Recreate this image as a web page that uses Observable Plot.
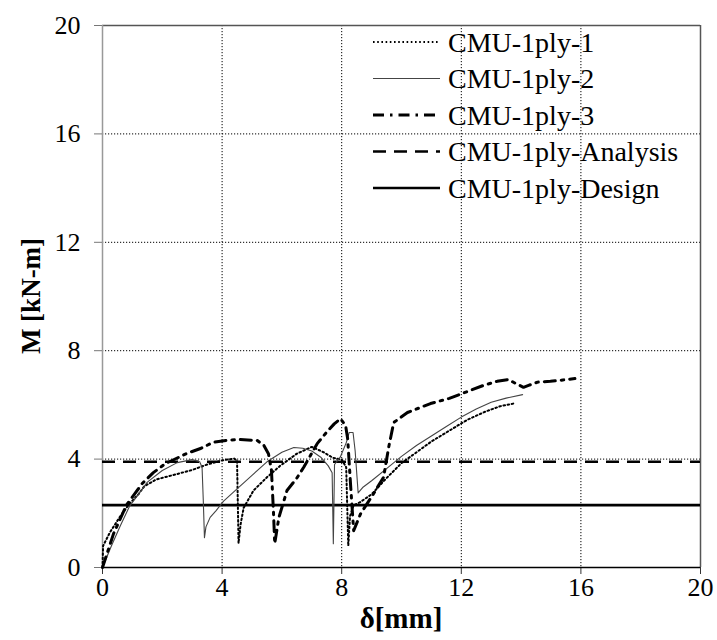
<!DOCTYPE html>
<html><head><meta charset="utf-8">
<script src="https://cdn.jsdelivr.net/npm/d3@7"></script>
<script src="https://cdn.jsdelivr.net/npm/@observablehq/plot@0.6"></script>
<style>
body{margin:0;background:#fff;}
#chart{position:relative;width:717px;height:640px;}
#chart svg text{font-family:"Liberation Serif","Times New Roman",Times,serif !important;}
</style>
</head><body><div id="chart"></div>
<script>
const xTicks = [0, 4, 8, 12, 16, 20];
const yTicks = [0, 4, 8, 12, 16, 20];
const gridX = [4, 8, 12, 16];
const gridY = [4, 8, 12, 16];
const seriesNames = ["CMU-1ply-1", "CMU-1ply-2", "CMU-1ply-3", "CMU-1ply-Analysis", "CMU-1ply-Design"];
const xLabel = "δ[mm]";
const yLabel = "M [kN-m]";

const s1x = [0, 0.02, 0.25, 0.6, 0.9, 1.2, 1.4, 1.8, 2.5, 3.0, 3.5, 4.0, 4.4, 4.5, 4.55, 4.62, 4.72, 5.05, 5.5, 5.95, 6.5, 7.0, 7.4, 7.7, 8.0, 8.15, 8.22, 8.28, 8.4, 8.6, 9.0, 9.5, 10.0, 10.5, 11.0, 11.6, 12.2, 12.8, 13.3, 13.75];
const s1y = [0, 0.8, 1.3, 1.9, 2.35, 2.7, 3.0, 3.25, 3.45, 3.6, 3.8, 3.95, 4.02, 3.95, 0.9, 1.6, 2.2, 2.84, 3.33, 3.76, 4.2, 4.45, 4.25, 4.05, 3.98, 3.7, 0.8, 1.9, 2.3, 2.4, 2.7, 3.3, 3.85, 4.25, 4.65, 5.05, 5.45, 5.75, 5.95, 6.05];

const s2x = [0, 0.3, 0.6, 0.9, 1.2, 1.5, 2.0, 2.5, 3.0, 3.25, 3.33, 3.37, 3.41, 3.46, 3.6, 3.8, 4.05, 4.5, 5.0, 5.5, 6.0, 6.4, 6.7, 7.0, 7.3, 7.55, 7.68, 7.72, 7.76, 7.95, 8.15, 8.25, 8.38, 8.45, 8.55, 8.7, 9.0, 9.5, 10.0, 10.5, 11.0, 11.5, 12.0, 12.5, 13.0, 13.5, 14.05];
const s2y = [0, 0.8, 1.55, 2.25, 2.7, 3.15, 3.58, 3.87, 3.98, 3.9, 3.7, 2.5, 1.1, 1.5, 1.85, 2.1, 2.45, 2.9, 3.4, 3.9, 4.25, 4.43, 4.4, 4.3, 4.07, 3.75, 3.5, 0.88, 3.8, 4.07, 4.6, 4.98, 4.98, 4.3, 2.75, 2.95, 3.2, 3.65, 4.1, 4.5, 4.85, 5.2, 5.55, 5.85, 6.1, 6.25, 6.38];

const s3x = [0, 0.37, 0.8, 1.33, 1.7, 2.1, 2.8, 3.3, 3.7, 4.2, 4.6, 5.17, 5.4, 5.55, 5.65, 5.72, 5.76, 5.9, 6.17, 6.5, 6.73, 7.18, 7.5, 7.75, 7.96, 8.13, 8.2, 8.3, 8.4, 8.63, 9.07, 9.4, 9.57, 9.74, 10.2, 10.97, 11.6, 12.03, 12.74, 13.2, 13.58, 13.8, 14.08, 14.25, 14.55, 14.98, 15.4, 15.8];
const s3y = [0, 1.25, 2.3, 3.1, 3.5, 3.83, 4.2, 4.4, 4.62, 4.7, 4.72, 4.69, 4.5, 4.2, 3.6, 2.0, 0.88, 1.85, 2.84, 3.3, 3.7, 4.57, 5.0, 5.3, 5.49, 5.24, 4.75, 3.0, 1.36, 1.98, 2.73, 3.33, 4.43, 5.35, 5.72, 6.05, 6.24, 6.42, 6.72, 6.87, 6.94, 6.8, 6.65, 6.72, 6.84, 6.87, 6.92, 6.97];

const analysisM = [3.9];
const designM = [2.3];

const toRows = (xs, ys, name) => xs.map((d, i) => ({d, m: ys[i], series: name}));
const d1 = toRows(s1x, s1y, seriesNames[0]);
const d2 = toRows(s2x, s2y, seriesNames[1]);
const d3r = toRows(s3x, s3y, seriesNames[2]);

const styles = [
  {stroke: "#000", strokeWidth: 2, strokeDasharray: "1.6,2.6"},
  {stroke: "#444", strokeWidth: 1.1, strokeDasharray: null},
  {stroke: "#000", strokeWidth: 3, strokeDasharray: "11,6,2.5,6"},
  {stroke: "#000", strokeWidth: 2.6, strokeDasharray: "13,8"},
  {stroke: "#000", strokeWidth: 2.6, strokeDasharray: null}
];

const font = "'Liberation Serif', 'Times New Roman', Times, serif";
const W = 717, H = 640;
const plot = Plot.plot({
  width: W, height: H,
  marginLeft: 102, marginRight: 17, marginTop: 25, marginBottom: 73,
  style: {fontFamily: font, fontSize: "26px", background: "#fff", color: "#000"},
  x: {domain: [0, 20], label: null},
  y: {domain: [0, 20], label: null},
  marks: [
    Plot.ruleX(gridX, {stroke: "#000", strokeWidth: 1, strokeDasharray: "1.2,1.8"}),
    Plot.ruleY(gridY, {stroke: "#000", strokeWidth: 1, strokeDasharray: "1.2,1.8"}),
    Plot.ruleY([20], {stroke: "#555", strokeWidth: 1.5}),
    Plot.ruleX([20], {stroke: "#555", strokeWidth: 1.5}),
    Plot.ruleX([0], {stroke: "#999", strokeWidth: 1.5}),
    Plot.axisX(xTicks, {tickSize: 7, tickPadding: 3, label: null, stroke: "#333", fill: "#000", fontSize: 26}),
    Plot.axisY(yTicks, {tickSize: 8, tickPadding: 14, label: null, stroke: "#777", fill: "#000", fontSize: 26}),
    Plot.ruleY(designM, {...styles[4]}),
    Plot.ruleY(analysisM, {...styles[3]}),
    Plot.line(d1, {x: "d", y: "m", ...styles[0]}),
    Plot.line(d2, {x: "d", y: "m", ...styles[1]}),
    Plot.line(d3r, {x: "d", y: "m", ...styles[2]}),
    Plot.ruleY([0], {stroke: "#000", strokeWidth: 1.5})
  ]
});
document.getElementById("chart").appendChild(plot);

const svg = d3.select(plot);
const xs = plot.scale("x"), ys = plot.scale("y");
const cx = (xs.range[0] + xs.range[1]) / 2;
const cy = (ys.range[0] + ys.range[1]) / 2;

svg.append("text").text(xLabel)
  .attr("x", cx).attr("y", 628).attr("text-anchor", "middle")
  .attr("font-size", 29).attr("font-weight", "bold").attr("fill", "#000");
svg.append("text").text(yLabel)
  .attr("transform", `translate(40,${cy}) rotate(-90)`).attr("text-anchor", "middle")
  .attr("font-size", 27).attr("font-weight", "bold").attr("fill", "#000");

const lg = svg.append("g").attr("transform", "translate(373,42)");
seriesNames.forEach((name, i) => {
  const st = styles[i];
  const g = lg.append("g").attr("transform", `translate(0,${i * 36.5})`);
  g.append("line").attr("x1", 0).attr("x2", 67).attr("y1", 0).attr("y2", 0)
    .attr("stroke", st.stroke).attr("stroke-width", st.strokeWidth)
    .attr("stroke-dasharray", st.strokeDasharray);
  g.append("text").text(name).attr("x", 75).attr("y", 0).attr("dy", "0.35em")
    .attr("text-anchor", "start").attr("font-size", 28).attr("fill", "#000");
});
</script>
</body></html>
